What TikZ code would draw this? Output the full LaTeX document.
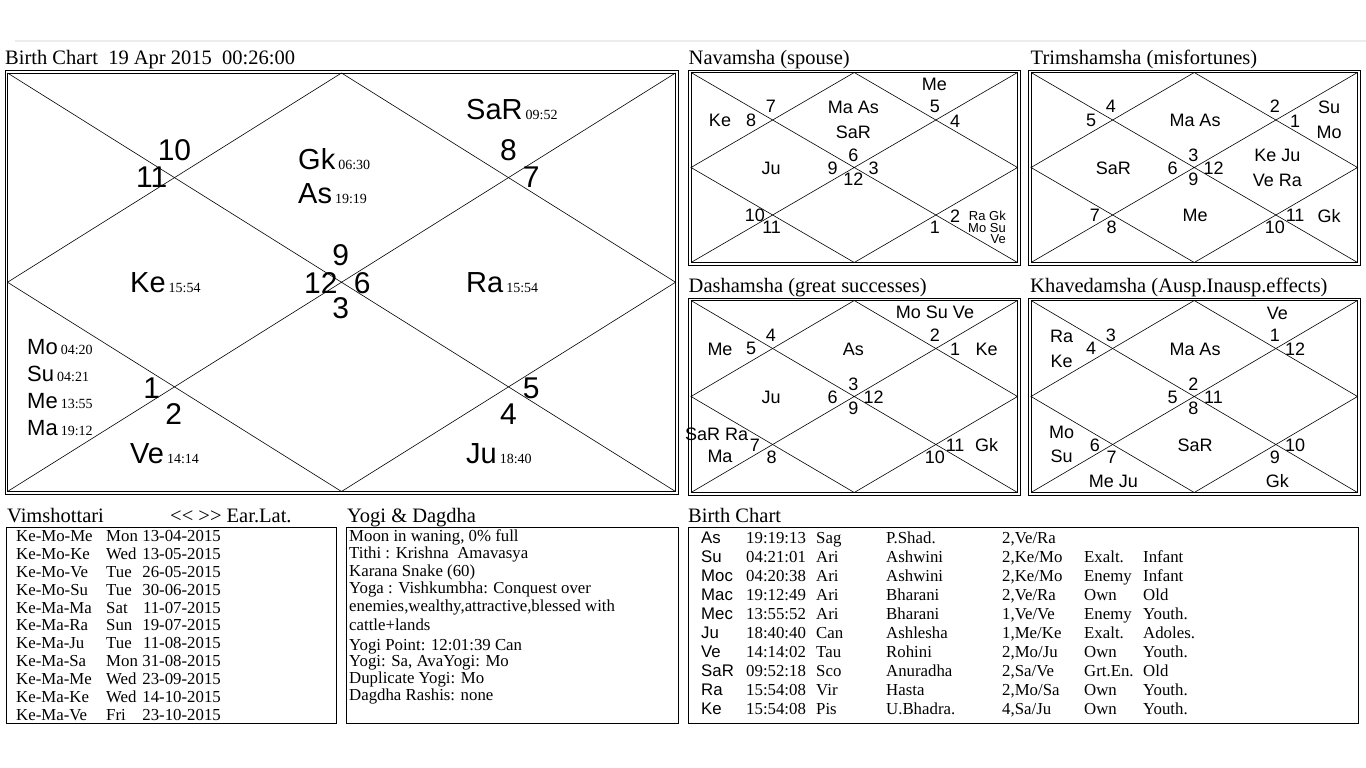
\documentclass[tikz,border=0pt]{standalone}
\usepackage{fontspec}
\setmainfont{Liberation Serif}
\setsansfont{Liberation Sans}
\usetikzlibrary{calc}
\definecolor{rulegray}{RGB}{236,236,236}

% time stamp after a planet
\newcommand{\tmstamp}[1]{\hspace{3pt}{\rmfamily\fontsize{14}{14}\selectfont #1}}
% house number places (fractions of the inner box)
\def\mainpos{1/0.499/0.435, 2/0.250/0.184, 3/0.216/0.249, 4/0.469/0.502, 5/0.216/0.754, 6/0.249/0.816, 7/0.499/0.562, 8/0.750/0.816, 9/0.784/0.754, 10/0.531/0.502, 11/0.784/0.249, 12/0.750/0.184}
\def\smallpos{1/0.497/0.434, 2/0.245/0.180, 3/0.184/0.250, 4/0.434/0.504, 5/0.196/0.754, 6/0.247/0.817, 7/0.497/0.562, 8/0.747/0.817, 9/0.809/0.754, 10/0.559/0.504, 11/0.809/0.255, 12/0.747/0.180}

\tikzset{
  frame/.style={line width=0.8pt},
  chartline/.style={line width=0.6pt},
  boxline/.style={line width=0.9pt},
  title/.style={font=\fontsize{20.5}{20.5}\selectfont, anchor=base west, inner sep=0pt},
  bignum/.style={font=\sffamily\fontsize{30}{30}\selectfont, inner sep=0pt},
  hnum/.style={font=\sffamily\fontsize{18}{18}\selectfont, inner sep=0pt},
  bigpl/.style={font=\sffamily\fontsize{29}{29}\selectfont, anchor=base west, inner sep=0pt},
  midpl/.style={font=\sffamily\fontsize{22}{22}\selectfont, anchor=base west, inner sep=0pt},
  pl/.style={font=\sffamily\fontsize{18}{18}\selectfont, inner sep=0pt},
  tinypl/.style={font=\sffamily\fontsize{13}{13}\selectfont, anchor=east, inner sep=0pt},
  rowrm/.style={font=\fontsize{16.8}{16.8}\selectfont, anchor=base west, inner sep=0pt},
  rowsf/.style={font=\sffamily\fontsize{16.8}{16.8}\selectfont, anchor=base west, inner sep=0pt},
}

% double frame + diagonals + diamond
\newcommand{\kframe}[5]{%
  \coordinate (#1-nw) at (#2,#3);
  \coordinate (#1-ne) at (#4,#3);
  \coordinate (#1-se) at (#4,#5);
  \coordinate (#1-sw) at (#2,#5);
  \draw[frame] ($(#1-nw)+(-2.5,-2.5)$) rectangle ($(#1-se)+(2.5,2.5)$);
  \draw[frame] (#1-nw) rectangle (#1-se);
  \draw[chartline] (#1-nw) -- (#1-se) (#1-ne) -- (#1-sw);
  \draw[chartline] ($(#1-nw)!0.5!(#1-ne)$) -- ($(#1-ne)!0.5!(#1-se)$) -- ($(#1-sw)!0.5!(#1-se)$) -- ($(#1-nw)!0.5!(#1-sw)$) -- cycle;
}
% sign numbers of the twelve houses
\newcommand{\knums}[8]{%
  \begin{scope}[shift={(#2,#3)}, x=#4pt, y=-#5pt]
    \foreach \k/\fx/\fy in #8 {
      \pgfmathtruncatemacro\sgn{mod(#6+\k-2,12)+1}
      \node[#7] (#1-h\k) at (\fx,\fy) {\sgn};
    }
  \end{scope}
}
% one line of the planet table
\newcommand{\brow}[8]{%
  \pgfmathsetmacro\rowy{543.3+(#1-1)*18.97}
  \node[rowsf] (bc-#1) at (701,\rowy) {#2};
  \node[rowrm] (bc-#1-t) at (746,\rowy) {#3};
  \node[rowrm] (bc-#1-s) at (816,\rowy) {#4};
  \node[rowrm] (bc-#1-n) at (886,\rowy) {#5};
  \node[rowrm] (bc-#1-p) at (1002,\rowy) {#6};
  \node[rowrm] (bc-#1-d) at (1084,\rowy) {#7};
  \node[rowrm] (bc-#1-a) at (1143,\rowy) {#8};
}

\begin{document}
\begin{tikzpicture}[x=1pt,y=-1pt]
\useasboundingbox (0,0) rectangle (1366,768);
\fill[white] (0,0) rectangle (1366,768);
\draw[line width=2.2pt, color=rulegray] (15,41) -- (1366,41);

%titles
\node[title] (t-main) at (5,65) {Birth Chart~ 19 Apr 2015~ 00:26:00};
\node[title] (t-nav) at (688.5,65) {Navamsha (spouse)};
\node[title] (t-trim) at (1030.5,65) {Trimshamsha (misfortunes)};
\node[title] (t-dash) at (688.5,292) {Dashamsha (great successes)};
\node[title] (t-khav) at (1030,292) {Khavedamsha (Ausp.Inausp.effects)};
\node[title] (t-vim) at (7,522) {Vimshottari};
\node[title] (t-vimnav) at (170,522) {<\kern0pt< >\kern0pt> Ear.Lat.};
\node[title] (t-yogi) at (347,522) {Yogi \& Dagdha};
\node[title] (t-bc) at (688,522) {Birth Chart};

%rasi chart
\kframe{main}{7.5}{73}{675.5}{491.5}
\knums{main}{7.5}{73}{668}{418.5}{9}{bignum}{\mainpos}
\node[bigpl] (m-gk) at (298,169) {Gk\tmstamp{06:30}};
\node[bigpl] (m-as) at (298,203) {As\tmstamp{19:19}};
\node[bigpl] (m-sa) at (466,119) {SaR\tmstamp{09:52}};
\node[bigpl] (m-ke) at (130,292) {Ke\tmstamp{15:54}};
\node[bigpl] (m-ra) at (466,292) {Ra\tmstamp{15:54}};
\node[bigpl] (m-ve) at (130,463) {Ve\tmstamp{14:14}};
\node[bigpl] (m-ju) at (466,463) {Ju\tmstamp{18:40}};
\node[midpl] (m-mo) at (27,354) {Mo\tmstamp{04:20}};
\node[midpl] (m-su) at (27,381) {Su\tmstamp{04:21}};
\node[midpl] (m-me) at (27,408) {Me\tmstamp{13:55}};
\node[midpl] (m-ma) at (27,435) {Ma\tmstamp{19:12}};

%navamsha
\kframe{nav}{691}{72.5}{1017.5}{262.5}
\knums{nav}{691}{72.5}{326.5}{190}{6}{hnum}{\smallpos}
\node[pl] (nav-me) at (934.3,84.3) {Me};
\node[pl] (nav-ke) at (720,120) {Ke};
\node[pl] (nav-maas) at (853.3,107.7) {Ma As};
\node[pl] (nav-sa) at (853.3,132.3) {SaR};
\node[pl] (nav-ju) at (771,168.3) {Ju};
\node[tinypl] (nav-ragk) at (1006,215.7) {Ra Gk};
\node[tinypl] (nav-mosu) at (1006,227.7) {Mo Su};
\node[tinypl] (nav-ve) at (1006,239) {Ve};

%trimshamsha
\kframe{trim}{1031}{72.5}{1357.5}{262.5}
\knums{trim}{1031}{72.5}{326.5}{190}{3}{hnum}{\smallpos}
\node[pl] (trim-maas) at (1195,120) {Ma As};
\node[pl] (trim-su) at (1329,107.7) {Su};
\node[pl] (trim-mo) at (1329,132.3) {Mo};
\node[pl] (trim-sa) at (1113.3,168.3) {SaR};
\node[pl] (trim-keju) at (1277.3,155) {Ke Ju};
\node[pl] (trim-vera) at (1277.3,180) {Ve Ra};
\node[pl] (trim-me) at (1195,215.7) {Me};
\node[pl] (trim-gk) at (1329,215.7) {Gk};

%dashamsha
\kframe{dash}{691}{300.5}{1017.5}{492.5}
\knums{dash}{691}{300.5}{326.5}{192}{3}{hnum}{\smallpos}
\node[pl] (dash-mosuve) at (935,312.3) {Mo Su Ve};
\node[pl] (dash-me) at (720,349) {Me};
\node[pl] (dash-as) at (853.3,349) {As};
\node[pl] (dash-ke) at (986.7,349) {Ke};
\node[pl] (dash-ju) at (771,397.7) {Ju};
\node[pl] (dash-sara) at (716.7,434.3) {SaR Ra};
\node[pl] (dash-ma) at (720,456.7) {Ma};
\node[pl] (dash-gk) at (986.7,445) {Gk};

%khavedamsha
\kframe{khav}{1031}{300.5}{1357.5}{492.5}
\knums{khav}{1031}{300.5}{326.5}{192}{2}{hnum}{\smallpos}
\node[pl] (khav-ve) at (1277.3,313.3) {Ve};
\node[pl] (khav-ra) at (1061.7,336.7) {Ra};
\node[pl] (khav-ke) at (1061.7,361) {Ke};
\node[pl] (khav-maas) at (1195,349) {Ma As};
\node[pl] (khav-mo) at (1061.7,432.3) {Mo};
\node[pl] (khav-su) at (1061.7,456.7) {Su};
\node[pl] (khav-sa) at (1195,445) {SaR};
\node[pl] (khav-meju) at (1113.3,481) {Me Ju};
\node[pl] (khav-gk) at (1277.3,481) {Gk};

%vimshottari
\draw[boxline] (6,527) rectangle (336,723);
\foreach \dasha/\wday/\dt [count=\i] in {Ke-Mo-Me/Mon/13-04-2015, Ke-Mo-Ke/Wed/13-05-2015, Ke-Mo-Ve/Tue/26-05-2015, Ke-Mo-Su/Tue/30-06-2015, Ke-Ma-Ma/Sat/11-07-2015, Ke-Ma-Ra/Sun/19-07-2015, Ke-Ma-Ju/Tue/11-08-2015, Ke-Ma-Sa/Mon/31-08-2015, Ke-Ma-Me/Wed/23-09-2015, Ke-Ma-Ke/Wed/14-10-2015, Ke-Ma-Ve/Fri/23-10-2015}{
  \pgfmathsetmacro\vy{541.7+(\i-1)*17.83}
  \node[rowrm] (vim-\i) at (16,\vy) {\dasha};
  \node[rowrm] (vim-\i-d) at (106,\vy) {\wday};
  \node[rowrm, anchor=base east] (vim-\i-t) at (221,\vy) {\dt};
}

%yogi and dagdha
\draw[boxline] (346,527) rectangle (678,723);
\node[rowrm] (yg-1) at (349,541.7) {Moon in waning, 0\% full};
\node[rowrm] (yg-2) at (349,558.3) {Tithi : Krishna~ Amavasya};
\node[rowrm] (yg-3) at (349,576) {Karana Snake (60)};
\node[rowrm] (yg-4) at (349,593.3) {Yoga : Vishkumbha: Conquest over};
\node[rowrm] (yg-5) at (349,611.7) {enemies,wealthy,attractive,blessed with};
\node[rowrm] (yg-6) at (349,630.7) {cattle+lands};
\node[rowrm] (yg-7) at (349,650) {Yogi Point: 12:01:39 Can};
\node[rowrm] (yg-8) at (349,666.7) {Yogi: Sa, AvaYogi: Mo};
\node[rowrm] (yg-9) at (349,683.3) {Duplicate Yogi: Mo};
\node[rowrm] (yg-10) at (349,700) {Dagdha Rashis: none};

%planet table
\draw[boxline] (688,527) rectangle (1358,723);
\brow{1}{As}{19:19:13}{Sag}{P.Shad.}{2,Ve/Ra}{}{}
\brow{2}{Su}{04:21:01}{Ari}{Ashwini}{2,Ke/Mo}{Exalt.}{Infant}
\brow{3}{Moc}{04:20:38}{Ari}{Ashwini}{2,Ke/Mo}{Enemy}{Infant}
\brow{4}{Mac}{19:12:49}{Ari}{Bharani}{2,Ve/Ra}{Own}{Old}
\brow{5}{Mec}{13:55:52}{Ari}{Bharani}{1,Ve/Ve}{Enemy}{Youth.}
\brow{6}{Ju}{18:40:40}{Can}{Ashlesha}{1,Me/Ke}{Exalt.}{Adoles.}
\brow{7}{Ve}{14:14:02}{Tau}{Rohini}{2,Mo/Ju}{Own}{Youth.}
\brow{8}{SaR}{09:52:18}{Sco}{Anuradha}{2,Sa/Ve}{Grt.En.}{Old}
\brow{9}{Ra}{15:54:08}{Vir}{Hasta}{2,Mo/Sa}{Own}{Youth.}
\brow{10}{Ke}{15:54:08}{Pis}{U.Bhadra.}{4,Sa/Ju}{Own}{Youth.}
\end{tikzpicture}
\end{document}
